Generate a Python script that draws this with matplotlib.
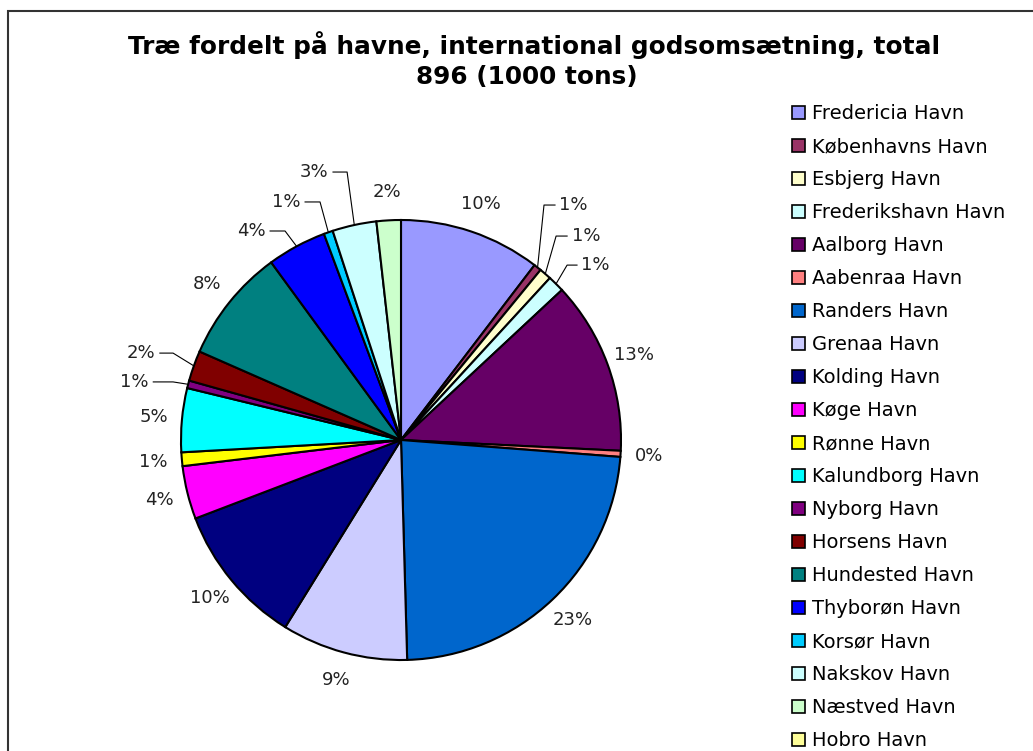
import matplotlib.pyplot as plt
from matplotlib.patches import Patch, Rectangle
import numpy as np

ports = ['Fredericia Havn', 'Københavns Havn', 'Esbjerg Havn', 'Frederikshavn Havn',
         'Aalborg Havn', 'Aabenraa Havn', 'Randers Havn', 'Grenaa Havn', 'Kolding Havn',
         'Køge Havn', 'Rønne Havn', 'Kalundborg Havn', 'Nyborg Havn', 'Horsens Havn',
         'Hundested Havn', 'Thyborøn Havn', 'Korsør Havn', 'Nakskov Havn', 'Næstved Havn',
         'Hobro Havn']
# 1000 tons
tons = [93, 5, 8, 11, 114, 4, 209, 83, 93, 35, 9, 42, 5, 20, 75, 39, 6, 29, 16, 0]
colors = ['#9999FF', '#993366', '#FFFFCC', '#CCFFFF', '#660066', '#FF8080', '#0066CC',
          '#CCCCFF', '#000080', '#FF00FF', '#FFFF00', '#00FFFF', '#800080', '#800000',
          '#008080', '#0000FF', '#00CCFF', '#CCFFFF', '#CCFFCC', '#FFFF99']

title = 'Træ fordelt på havne, international godsomsætning, total'
subtitle = '896 (1000 tons)'

# labels that need a leader line: slice index -> (elbow x, elbow y, horizontal length)
leaders = {1: (0.65, 1.068, 0.05), 2: (0.705, 0.927, 0.05), 3: (0.755, 0.795, 0.045),
           12: (-1.036, 0.264, 0.09), 13: (-1.036, 0.395, 0.06), 15: (-0.527, 0.95, 0.068),
           16: (-0.368, 1.082, 0.068), 17: (-0.245, 1.218, 0.064)}

W, H = 1033, 751
fig = plt.figure(figsize=(W / 100, H / 100), dpi=100)
fig.patch.set_facecolor('white')

# chart border (runs off the right and bottom edge)
fig.patches.append(Rectangle((8 / W, -0.5), 1.5, 1.5 - 11 / H, transform=fig.transFigure,
                             fill=False, edgecolor='#333333', lw=1.5))

fig.text(534 / W, 1 - 45 / H, title, ha='center', va='center', fontsize=17.8, fontweight='bold')
fig.text(527 / W, 1 - 77 / H, subtitle, ha='center', va='center', fontsize=17.8, fontweight='bold')

ax = fig.add_axes([181 / W, 91 / H, 440 / W, 440 / H])

vals = [v for v in tons if v > 0]
cols = [c for v, c in zip(tons, colors) if v > 0]
total = sum(vals)
wedges, _ = ax.pie(vals, colors=cols, startangle=90, counterclock=False, radius=1,
                   wedgeprops=dict(edgecolor='black', linewidth=1.5))
ax.set_xlim(-1, 1)
ax.set_ylim(-1, 1)
ax.axis('off')

for i, (w, v) in enumerate(zip(wedges, vals)):
    pct = '%.0f%%' % (v / total * 100)
    mid = np.deg2rad((w.theta1 + w.theta2) / 2)
    if i in leaders:
        ex, ey, hl = leaders[i]
        s = np.sign(ex)
        ax.plot([np.cos(mid), ex, ex + s * hl], [np.sin(mid), ey, ey], color='black', lw=0.8,
                clip_on=False)
        ax.text(ex + s * (hl + 0.02), ey, pct, ha='left' if s > 0 else 'right', va='center',
                fontsize=13, color='#222222')
    else:
        ax.text(1.13 * np.cos(mid), 1.13 * np.sin(mid), pct, ha='center', va='center',
                fontsize=13, color='#222222')

handles = [Patch(facecolor=c, edgecolor='black', lw=1.2) for c in colors]
fig.legend(handles, ports, loc='upper left', bbox_to_anchor=(792 / W, 1 - 104 / H),
           bbox_transform=fig.transFigure, frameon=False, fontsize=14, borderpad=0,
           borderaxespad=0, handlelength=0.65, handleheight=0.65, handletextpad=0.4,
           labelspacing=0.72)

fig.savefig('out.png', dpi=100)
